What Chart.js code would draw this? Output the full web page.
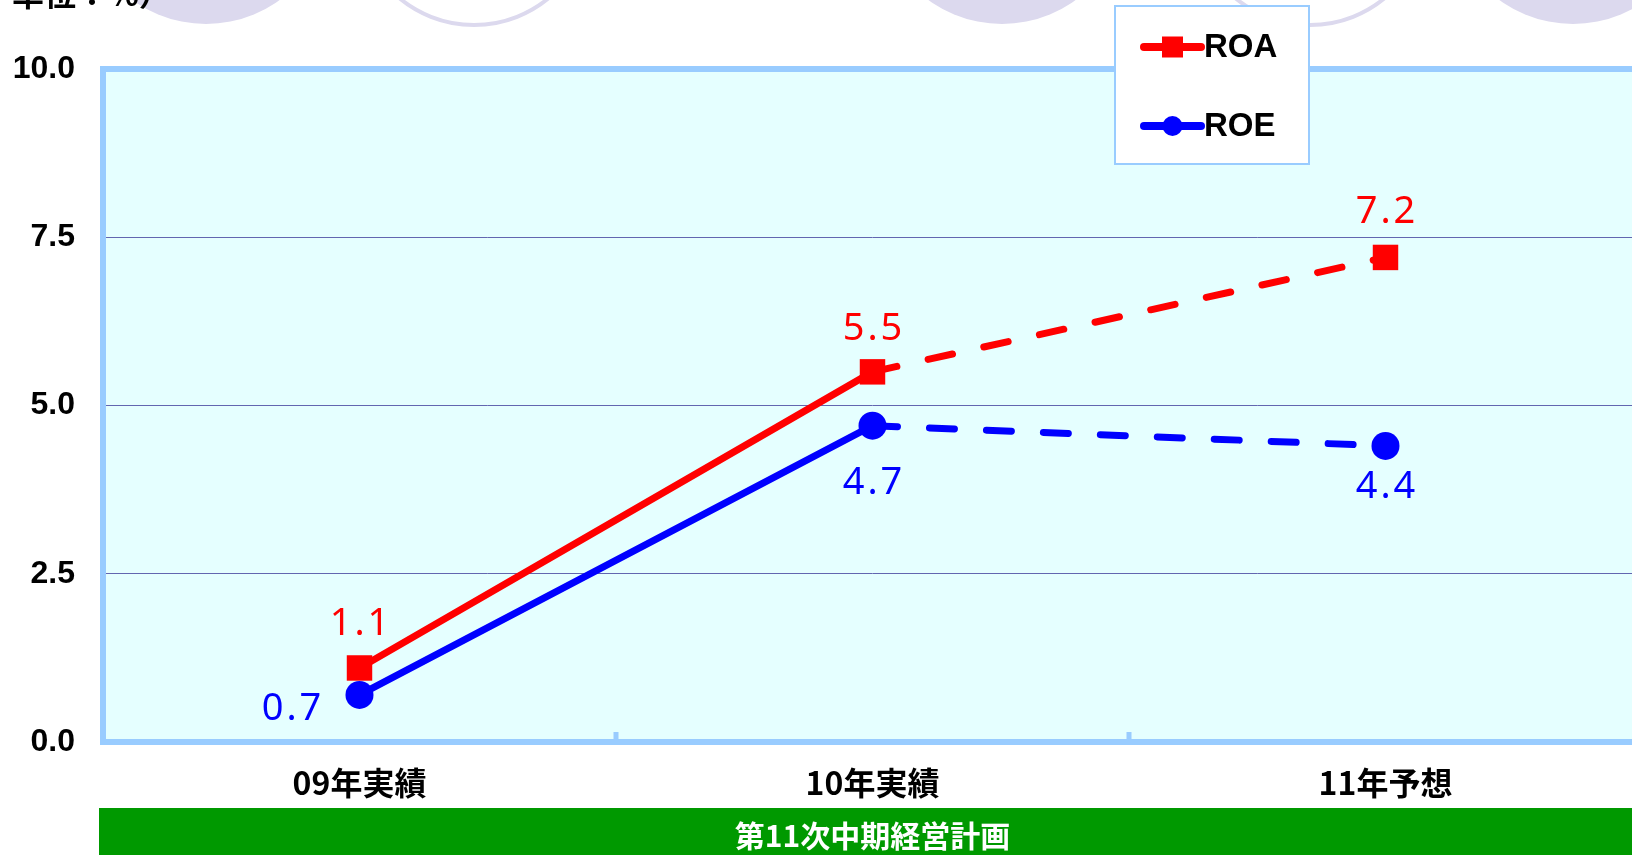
<!DOCTYPE html>
<html>
<head>
<meta charset="utf-8">
<script src="https://cdn.jsdelivr.net/npm/chart.js@4/dist/chart.umd.min.js"></script>
<style>
  html, body { margin: 0; padding: 0; background: #fff; overflow: hidden; }
  #wrap { width: 1632px; height: 855px; overflow: hidden; position: relative; }
  canvas { position: absolute; left: 0; top: 0; }
</style>
</head>
<body>
<div id="wrap"><canvas id="grafico" width="1660" height="855"></canvas></div>
<script>
const categorias = ['09年実績', '10年実績', '11年予想'];
const valoresROA = [1.1, 5.5, 7.2];
const valoresROE = [0.7, 4.7, 4.4];
const ticksY = [0, 2.5, 5, 7.5, 10];
const textoPlano = '第11次中期経営計画';
const textoUnidade = '単位：%）';
const indiceReal = 1; // a partir daqui a linha é tracejada (previsão)

// deslocamento dos rótulos em relação ao ponto
const deslocROA = [[0, -44], [0, -43], [0, -45]];
const deslocROE = [[-68, 14], [0, 57], [0, 41]];

const CIANO = '#e5ffff';
const AZUL_BORDA = '#99ccff';
const LAVANDA = '#dcd9ee';

const fundo = {
  id: 'fundo',
  beforeDraw(chart) {
    const { ctx, chartArea: a } = chart;
    ctx.save();
    // círculos decorativos do slide
    [[206, -101, 125, true], [474, -92, 117, false], [1002, -101, 125, true],
     [1310, -92, 117, false], [1573, -101, 125, true]].forEach(([cx, cy, r, cheio]) => {
      ctx.beginPath();
      ctx.arc(cx, cy, r, 0, Math.PI * 2);
      if (cheio) { ctx.fillStyle = LAVANDA; ctx.fill(); }
      else { ctx.strokeStyle = LAVANDA; ctx.lineWidth = 4; ctx.stroke(); }
    });
    ctx.fillStyle = '#000';
    ctx.font = 'bold 32px "Noto Sans CJK JP"';
    ctx.textBaseline = 'alphabetic';
    ctx.textAlign = 'left';
    ctx.fillText(textoUnidade, 12, 6);

    ctx.fillStyle = CIANO;
    ctx.fillRect(a.left, a.top, a.width, a.height);
    ctx.restore();
  },
  beforeDatasetsDraw(chart) {
    const { ctx, chartArea: a, scales: { x } } = chart;
    ctx.save();
    ctx.strokeStyle = AZUL_BORDA;
    ctx.lineWidth = 6;
    ctx.strokeRect(a.left, a.top, a.width, a.height);
    ctx.fillStyle = AZUL_BORDA;
    for (let i = 0; i < categorias.length - 1; i++) {
      const xm = (x.getPixelForValue(i) + x.getPixelForValue(i + 1)) / 2;
      ctx.fillRect(xm - 2.5, a.bottom - 10, 5, 10);
    }
    ctx.restore();
  },
  afterDatasetsDraw(chart) {
    const { ctx } = chart;
    ctx.save();
    ctx.font = '38px "Noto Sans"';
    ctx.letterSpacing = '3px';
    ctx.textAlign = 'center';
    ctx.textBaseline = 'middle';
    chart.data.datasets.forEach((ds, d) => {
      const desloc = d === 0 ? deslocROA : deslocROE;
      chart.getDatasetMeta(d).data.forEach((p, i) => {
        ctx.fillStyle = ds.borderColor;
        ctx.fillText(ds.data[i].toFixed(1), p.x + desloc[i][0] + 1.5, p.y + desloc[i][1]);
      });
    });
    ctx.restore();
  },
  afterDraw(chart) {
    const { ctx, chartArea: a } = chart;
    ctx.save();
    // legenda
    ctx.fillStyle = '#fff';
    ctx.fillRect(1115, 6, 194, 158);
    ctx.strokeStyle = AZUL_BORDA;
    ctx.lineWidth = 2;
    ctx.strokeRect(1115, 6, 194, 158);
    chart.data.datasets.forEach((ds, d) => {
      const y = 47 + d * 79;
      ctx.strokeStyle = ds.borderColor;
      ctx.fillStyle = ds.borderColor;
      ctx.lineWidth = 8;
      ctx.lineCap = 'round';
      ctx.beginPath();
      ctx.moveTo(1144, y);
      ctx.lineTo(1201, y);
      ctx.stroke();
      if (ds.pointStyle === 'rect') ctx.fillRect(1162, y - 10.5, 21, 21);
      else { ctx.beginPath(); ctx.arc(1172.5, y, 10, 0, Math.PI * 2); ctx.fill(); }
      ctx.fillStyle = '#000';
      ctx.font = 'bold 33px "Liberation Sans"';
      ctx.textAlign = 'left';
      ctx.textBaseline = 'middle';
      ctx.fillText(ds.label, 1204, y + 1);
    });
    // faixa verde do plano
    const x0 = a.left - 4, x1 = a.right + 4;
    ctx.fillStyle = '#009900';
    ctx.fillRect(x0, 808, chart.width - x0, 47);
    ctx.fillStyle = '#fff';
    ctx.font = 'bold 30px "Noto Sans CJK JP"';
    ctx.textAlign = 'center';
    ctx.textBaseline = 'middle';
    ctx.fillText(textoPlano, (x0 + x1) / 2, 836);
    ctx.restore();
  }
};

const tracejado = ctx => ctx.p0DataIndex >= indiceReal ? [25, 32] : undefined;

new Chart(document.getElementById('grafico'), {
  type: 'line',
  data: {
    labels: categorias,
    datasets: [
      {
        label: 'ROA',
        data: valoresROA,
        borderColor: '#ff0000',
        backgroundColor: '#ff0000',
        borderWidth: 7,
        borderCapStyle: 'round',
        pointStyle: 'rect',
        pointRadius: 18,
        pointBorderWidth: 0,
        pointBackgroundColor: '#ff0000',
        segment: { borderDash: tracejado }
      },
      {
        label: 'ROE',
        data: valoresROE,
        borderColor: '#0000ff',
        backgroundColor: '#0000ff',
        borderWidth: 7,
        borderCapStyle: 'round',
        pointStyle: 'circle',
        pointRadius: 14,
        pointBorderWidth: 0,
        pointBackgroundColor: '#0000ff',
        segment: { borderDash: tracejado }
      }
    ]
  },
  options: {
    responsive: false,
    animation: false,
    events: [],
    layout: { padding: { top: 69, right: 12, bottom: 0, left: 0 } },
    plugins: { legend: { display: false }, tooltip: { enabled: false } },
    scales: {
      x: {
        offset: true,
        grid: { display: false },
        border: { display: false },
        ticks: { color: '#000', font: { family: '"Noto Sans CJK JP"', size: 32, weight: 'bold' }, padding: 14 },
        afterFit: s => { s.height = 113; }
      },
      y: {
        min: 0,
        max: 10,
        afterBuildTicks: s => { s.ticks = ticksY.map(v => ({ value: v })); },
        grid: { color: '#6266b0', lineWidth: 1, drawTicks: false },
        border: { display: false },
        ticks: {
          color: '#000',
          padding: 28,
          font: { family: '"Liberation Sans"', size: 32, weight: 'bold' },
          callback: v => Number(v).toFixed(1)
        },
        afterFit: s => { s.width = 103; }
      }
    }
  },
  plugins: [fundo]
});
</script>
</body>
</html>
